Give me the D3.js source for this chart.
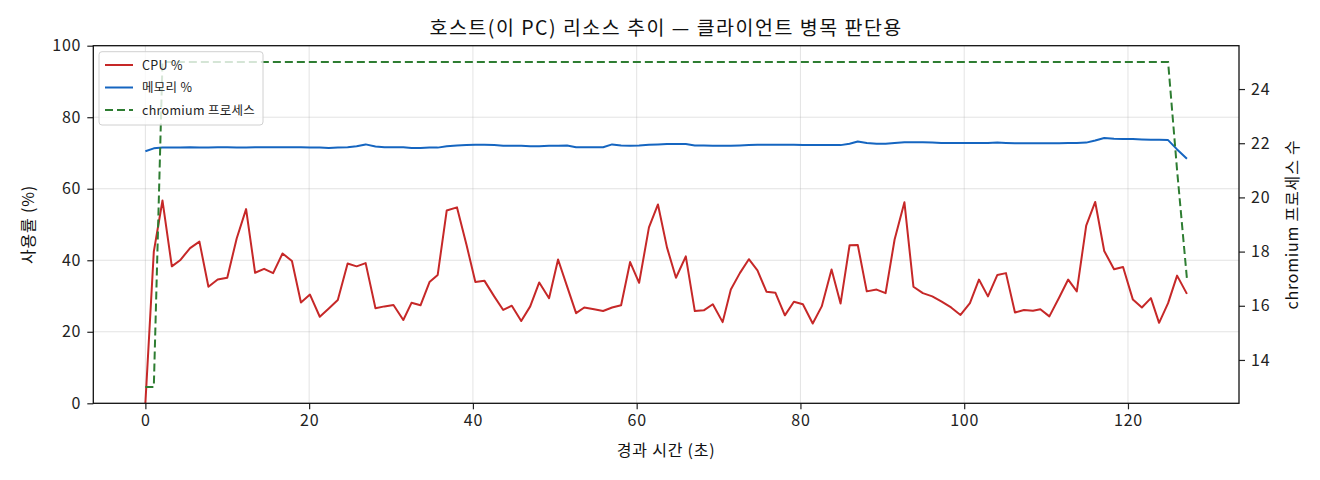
<!DOCTYPE html>
<html>
<head>
<meta charset="utf-8">
<script src="https://cdn.jsdelivr.net/npm/d3@7"></script>
<style>
	body { margin: 0; background: #fff; }
	svg { font-family: "Noto Sans CJK KR", "DejaVu Sans", sans-serif; }
</style>
</head>
<body>
<svg width="1320" height="480"></svg>
<script>
// elapsed time (s) of each sample
var times = [
	0, 1.03, 2.09, 3.23, 4.24, 5.46, 6.6, 7.7, 8.83, 10.0, 11.15, 12.3, 13.4, 14.5, 15.6,
	16.75, 17.9, 19.0, 20.1, 21.3, 22.4, 23.5, 24.7, 25.8, 26.9, 28.1, 29.2, 30.3, 31.5,
	32.5, 33.6, 34.7, 35.7, 36.8, 38.05, 39.2, 40.3, 41.4, 42.6, 43.7, 44.75, 45.9, 47.0,
	48.1, 49.3, 50.4, 51.5, 52.6, 53.6, 54.8, 55.9, 57.0, 58.1, 59.2, 60.3, 61.5, 62.6,
	63.7, 64.8, 66.0, 67.1, 68.2, 69.3, 70.5, 71.5, 72.6, 73.7, 74.75, 75.85, 76.95, 78.1,
	79.2, 80.3, 81.5, 82.6, 83.8, 84.9, 86.0, 87.0, 88.1, 89.3, 90.4, 91.5, 92.7, 93.8, 94.95,
	96.1, 97.2, 98.4, 99.55, 100.7, 101.8, 102.9, 104.05, 105.1, 106.2, 107.3, 108.4, 109.3,
	110.4, 111.6, 112.7, 113.75, 114.9, 116.0, 117.1, 118.3, 119.4, 120.6, 121.7, 122.8,
	123.8, 124.9, 126.0, 127.2
];

var cpu = [
	0, 42.4, 56.7, 38.3, 40.0, 43.4, 45.2, 32.6, 34.6, 35.1, 46.1, 54.3, 36.5, 37.6, 36.4,
	41.9, 39.8, 28.2, 30.4, 24.2, 26.5, 28.9, 39.1, 38.3, 39.2, 26.6, 27.1, 27.5, 23.3,
	28.1, 27.4, 33.9, 35.9, 53.9, 54.8, 44.5, 33.9, 34.3, 29.9, 26.1, 27.3, 23.0, 27.1,
	33.8, 29.4, 40.2, 32.7, 25.2, 26.8, 26.3, 25.8, 26.8, 27.4, 39.5, 33.7, 49.2, 55.6,
	43.6, 35.1, 41.1, 25.8, 26.0, 27.7, 22.7, 31.8, 36.4, 40.3, 37.2, 31.2, 30.9, 24.6,
	28.4, 27.7, 22.3, 27.1, 37.4, 27.9, 44.2, 44.3, 31.3, 31.8, 30.8, 45.8, 56.2, 32.6, 30.8,
	29.9, 28.5, 26.8, 24.7, 28.0, 34.6, 29.9, 35.9, 36.4, 25.4, 26.1, 25.9, 26.3,
	24.3, 29.6, 34.6, 31.3, 49.7, 56.3, 42.6, 37.5, 38.1, 29.0, 26.8, 29.4,
	22.5, 28.0, 35.7, 30.6
];

var mem = [
	70.5, 71.3, 71.5, 71.5, 71.5, 71.6, 71.5, 71.5, 71.6, 71.6, 71.5, 71.5, 71.6, 71.6, 71.6,
	71.6, 71.6, 71.6, 71.5, 71.5, 71.4, 71.5, 71.6, 71.9, 72.4, 71.8, 71.6, 71.6, 71.6,
	71.4, 71.4, 71.5, 71.5, 71.9, 72.1, 72.2, 72.3, 72.3, 72.2, 72.0, 72.0, 72.0, 71.9,
	71.9, 72.0, 72.0, 72.1, 71.6, 71.6, 71.6, 71.6, 72.4, 72.1, 72.0, 72.1, 72.3, 72.4,
	72.5, 72.5, 72.5, 72.1, 72.1, 72.0, 72.0, 72.0, 72.1, 72.2, 72.3, 72.3, 72.3, 72.3,
	72.3, 72.2, 72.2, 72.2, 72.2, 72.2, 72.6, 73.2, 72.8, 72.6, 72.6, 72.8, 73.0, 73.0, 73.0,
	72.9, 72.8, 72.8, 72.8, 72.8, 72.8, 72.8, 72.9, 72.8, 72.7, 72.7, 72.7, 72.7,
	72.7, 72.7, 72.8, 72.8, 72.9, 73.5, 74.2, 74.0, 73.9, 73.9, 73.8,
	73.7, 73.7, 73.6, 71.0, 68.4
];

// chromium process count
var procs = [
	13, 13, 25, 25, 25, 25, 25, 25, 25, 25, 25, 25, 25, 25, 25,
	25, 25, 25, 25, 25, 25, 25, 25, 25, 25, 25, 25, 25, 25,
	25, 25, 25, 25, 25, 25, 25, 25, 25, 25, 25, 25, 25, 25,
	25, 25, 25, 25, 25, 25, 25, 25, 25, 25, 25, 25, 25, 25,
	25, 25, 25, 25, 25, 25, 25, 25, 25, 25, 25, 25, 25, 25,
	25, 25, 25, 25, 25, 25, 25, 25, 25, 25, 25, 25, 25, 25, 25,
	25, 25, 25, 25, 25, 25, 25, 25, 25, 25, 25, 25, 25,
	25, 25, 25, 25, 25, 25, 25, 25, 25, 25, 25, 25,
	25, 25, 21, 17
];

var xTicks = [0, 20, 40, 60, 80, 100, 120];
var yTicks = [0, 20, 40, 60, 80, 100];
var y2Ticks = [14, 16, 18, 20, 22, 24];

var seriesNames = ["CPU %", "메모리 %", "chromium 프로세스"];
var seriesColors = ["#c62828", "#1565c0", "#2e7d32"];

(function () {
	var L = 93.3, R = 1239, T = 45.7, B = 403.3;

	var svg = d3.select("svg");

	var pad = 0.05 * (d3.max(times) - d3.min(times));
	var x = d3.scaleLinear().domain([d3.min(times) - pad, d3.max(times) + pad]).range([L, R]);
	var y = d3.scaleLinear().domain([0, 100]).range([B, T]);
	var pPad = 0.05 * (d3.max(procs) - d3.min(procs));
	var y2 = d3.scaleLinear().domain([d3.min(procs) - pPad, d3.max(procs) + pPad]).range([B, T]);

	// grid
	var grid = svg.append("g").attr("class", "grid");
	grid.selectAll("line.gx")
		.data(xTicks)
		.enter()
		.append("line")
		.attr("x1", d => x(d)).attr("x2", d => x(d))
		.attr("y1", T).attr("y2", B)
		.style("stroke", "#b0b0b0").style("stroke-opacity", 0.35).style("stroke-width", 1);
	grid.selectAll("line.gy")
		.data(yTicks.slice(1, -1))
		.enter()
		.append("line")
		.attr("x1", L).attr("x2", R)
		.attr("y1", d => y(d)).attr("y2", d => y(d))
		.style("stroke", "#b0b0b0").style("stroke-opacity", 0.35).style("stroke-width", 1);

	// lines
	var pts = times.map((t, i) => ({ t: t, cpu: cpu[i], mem: mem[i], procs: procs[i] }));

	svg.append("path")
		.datum(pts)
		.attr("d", d3.line().x(d => x(d.t)).y(d => y(d.cpu)))
		.style("fill", "none").style("stroke", seriesColors[0]).style("stroke-width", 2)
		.style("stroke-linejoin", "round");

	svg.append("path")
		.datum(pts)
		.attr("d", d3.line().x(d => x(d.t)).y(d => y(d.mem)))
		.style("fill", "none").style("stroke", seriesColors[1]).style("stroke-width", 2)
		.style("stroke-linejoin", "round");

	svg.append("path")
		.datum(pts)
		.attr("d", d3.line().x(d => x(d.t)).y(d => y2(d.procs)))
		.style("fill", "none").style("stroke", seriesColors[2]).style("stroke-width", 2)
		.style("stroke-dasharray", "8,4");

	// axes
	var xAxis = svg.append("g")
		.attr("transform", `translate(0,${B})`)
		.call(d3.axisBottom(x).tickValues(xTicks).tickSize(6).tickPadding(5));
	var yAxis = svg.append("g")
		.attr("transform", `translate(${L},0)`)
		.call(d3.axisLeft(y).tickValues(yTicks).tickSize(6).tickPadding(6));
	var y2Axis = svg.append("g")
		.attr("transform", `translate(${R},0)`)
		.call(d3.axisRight(y2).tickValues(y2Ticks).tickSize(6).tickPadding(6));

	[xAxis, yAxis, y2Axis].forEach(a => {
		a.select(".domain").remove();
		a.selectAll(".tick line").style("stroke", "#222").style("stroke-width", 1.2);
		a.selectAll(".tick text").style("font-size", "16px").style("letter-spacing", "0.8px")
			.style("fill", "#222").style("font-family", "'Noto Sans CJK KR', sans-serif");
	});

	svg.append("rect")
		.attr("x", L).attr("y", T)
		.attr("width", R - L).attr("height", B - T)
		.style("fill", "none").style("stroke", "#111").style("stroke-width", 1.3);

	// titles
	svg.append("text")
		.attr("x", (L + R) / 2).attr("y", 35)
		.style("text-anchor", "middle").style("font-size", "19.5px").style("letter-spacing", "1.5px")
		.style("fill", "#111")
		.text("호스트(이 PC) 리소스 추이 — 클라이언트 병목 판단용");

	svg.append("text")
		.attr("x", (L + R) / 2).attr("y", 456)
		.style("text-anchor", "middle").style("font-size", "16px").style("letter-spacing", "0.8px")
		.style("fill", "#111")
		.text("경과 시간 (초)");

	svg.append("text")
		.attr("transform", `translate(34,${(T + B) / 2}) rotate(-90)`)
		.style("text-anchor", "middle").style("font-size", "16px").style("letter-spacing", "0.8px")
		.style("fill", "#111")
		.text("사용률 (%)");

	svg.append("text")
		.attr("transform", `translate(1298,${(T + B) / 2}) rotate(-90)`)
		.style("text-anchor", "middle").style("font-size", "16px").style("letter-spacing", "0.8px")
		.style("fill", "#111")
		.text("chromium 프로세스 수");

	// legend
	var legend = svg.append("g").attr("transform", "translate(99,51.7)");
	legend.append("rect")
		.attr("width", 164).attr("height", 73.3).attr("rx", 3)
		.style("fill", "#fff").style("fill-opacity", 0.8)
		.style("stroke", "#d0d0d0").style("stroke-width", 1);

	var rows = legend.selectAll("g.row")
		.data(seriesNames)
		.enter()
		.append("g")
		.attr("class", "row")
		.attr("transform", (d, i) => `translate(0,${13.3 + i * 22.5})`);
	rows.append("line")
		.attr("x1", 6).attr("x2", 34)
		.style("stroke", (d, i) => seriesColors[i]).style("stroke-width", 2)
		.style("stroke-dasharray", (d, i) => i == 2 ? "8,4" : null);
	rows.append("text")
		.attr("x", 43).attr("y", 4.5)
		.style("font-size", "12.5px").style("letter-spacing", "0.3px").style("fill", "#222")
		.text(d => d);
})();
</script>
</body>
</html>
